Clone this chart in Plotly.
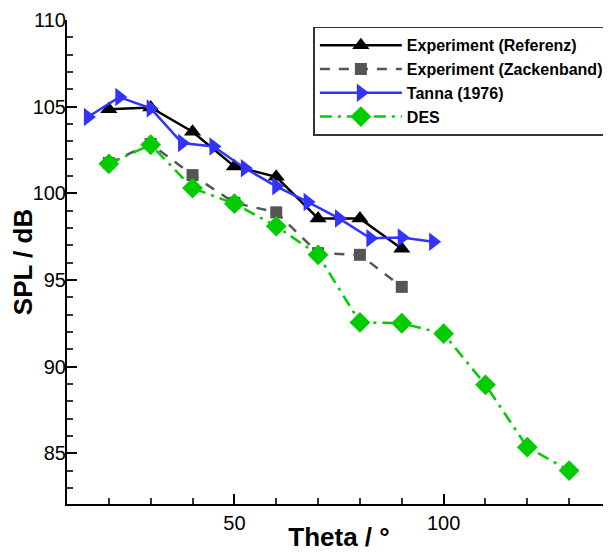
import plotly.graph_objects as go

# Data
theta_ref = [20, 30, 40, 50, 60, 70, 80, 90]
spl_referenz = [104.85, 104.95, 103.55, 101.55, 100.95, 98.55, 98.55, 96.8]
spl_zackenband = [101.75, 102.85, 101.05, 99.45, 98.9, 96.55, 96.45, 94.6]

theta_tanna = [15, 22.5, 30, 37.5, 45, 52.5, 60, 67.5, 75, 82.5, 90, 97.5]
spl_tanna = [104.4, 105.55, 104.9, 102.9, 102.7, 101.45, 100.4, 99.5, 98.55, 97.4, 97.45, 97.2]

theta_des = [20, 30, 40, 50, 60, 70, 80, 90, 100, 110, 120, 130]
spl_des = [101.7, 102.8, 100.3, 99.4, 98.1, 96.45, 92.55, 92.5, 91.9, 88.95, 85.35, 84.0]

series_names = ["Experiment (Referenz)", "Experiment (Zackenband)", "Tanna (1976)", "DES"]

x_title = "Theta / °"
y_title = "SPL / dB"

font_family = "Liberation Sans, Arial, Helvetica, sans-serif"

fig = go.Figure()

fig.add_trace(go.Scatter(
    x=theta_ref, y=spl_referenz, name="<b>" + series_names[0] + "</b>", mode="lines+markers",
    line=dict(color="black", width=2.5),
    marker=dict(symbol="triangle-up", size=15, color="black"),
))
fig.add_trace(go.Scatter(
    x=theta_ref, y=spl_zackenband, name="<b>" + series_names[1] + "</b>", mode="lines+markers",
    line=dict(color="#555555", width=2.5, dash="10px,9px"),
    marker=dict(symbol="square", size=12, color="#555555"),
))
fig.add_trace(go.Scatter(
    x=theta_tanna, y=spl_tanna, name="<b>" + series_names[2] + "</b>", mode="lines+markers",
    line=dict(color="#3333ff", width=2.5),
    marker=dict(symbol="triangle-right", size=16, color="#3333ff"),
))
fig.add_trace(go.Scatter(
    x=theta_des, y=spl_des, name="<b>" + series_names[3] + "</b>", mode="lines+markers",
    line=dict(color="#00cc00", width=2.5, dash="12px,6px,3px,6px"),
    marker=dict(symbol="diamond", size=16, color="#00cc00"),
))

axis_common = dict(
    showgrid=False, zeroline=False, showline=True, linecolor="black", linewidth=2,
    ticks="inside", ticklen=10, tickwidth=2, tickcolor="black",
    tickfont=dict(family=font_family, size=20, color="black"),
    title_font=dict(family=font_family, size=26, color="black"),
)

fig.update_xaxes(
    range=[10, 140], tick0=0, dtick=50,
    minor=dict(ticks="inside", ticklen=6, tickwidth=1.5, tickcolor="#333333", dtick=10, tick0=0),
    title=dict(text="<b>" + x_title + "</b>", standoff=1),
    **axis_common,
)
fig.update_yaxes(
    range=[82.07, 110], tick0=0, dtick=5,
    minor=dict(ticks="inside", ticklen=6, tickwidth=1.5, tickcolor="#333333", dtick=1, tick0=0),
    title=dict(text="<b>" + y_title + "</b>", standoff=0),
    ticklabelstandoff=-5,
    **axis_common,
)

# The page has an 8px body margin, so the figure is drawn 8px smaller and offset
fig.update_layout(
    width=603, height=544,
    margin=dict(l=59, r=0, t=12, b=48, autoexpand=False),
    plot_bgcolor="white", paper_bgcolor="white",
    font=dict(family=font_family, color="black"),
    showlegend=True,
    legend=dict(
        x=0.997, y=0.986, xanchor="right", yanchor="top",
        bgcolor="white", bordercolor="#333333", borderwidth=1.5,
        font=dict(family=font_family, size=16, color="black"),
        tracegroupgap=0, itemwidth=82,
    ),
)

fig.write_html("out.html")
